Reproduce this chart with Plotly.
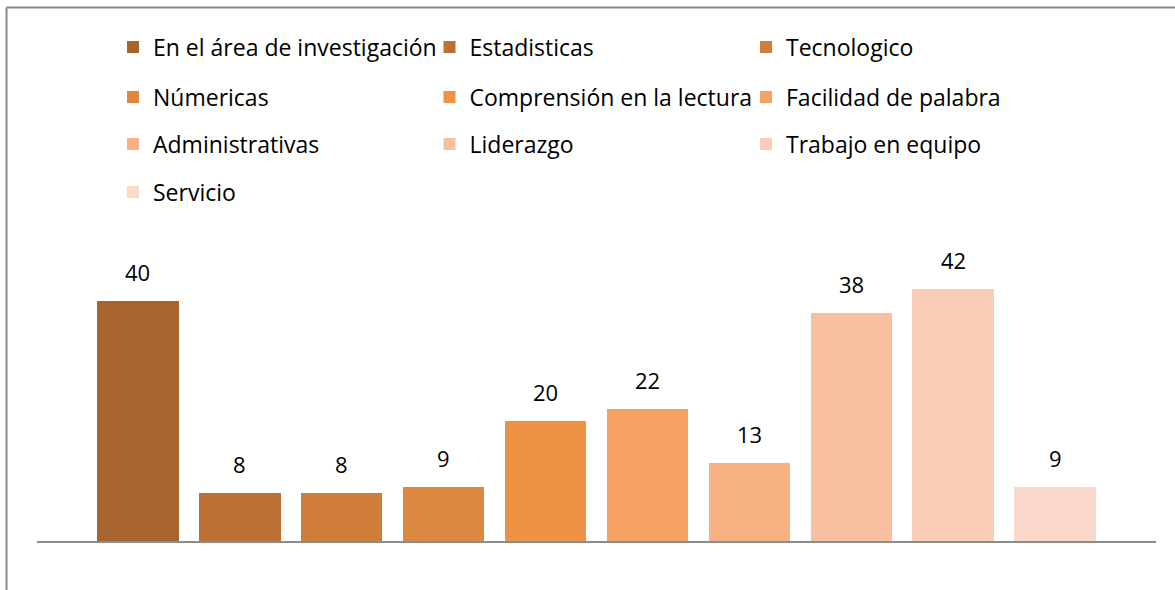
import plotly.graph_objects as go

categories = ["En el área de investigación", "Estadisticas", "Tecnologico",
              "Númericas", "Comprensión en la lectura", "Facilidad de palabra",
              "Administrativas", "Liderazgo", "Trabajo en equipo", "Servicio"]
values = [40, 8, 8, 9, 20, 22, 13, 38, 42, 9]
colors = ["#A6652E", "#BC7134", "#D07D3A", "#DD8841", "#EE9346",
          "#F6A264", "#F7B183", "#F8C0A0", "#FACDB8", "#FAD9CB"]

W, H = 1175, 590
ml, mr, mt, mb = 37, 19, 241, 49
pw = W - ml - mr
ph = H - mt - mb

FONT = "Open Sans"
FS = 23
fig = go.Figure()

legend_rows_px = [47, 97, 144, 192]
legend_names = ["legend", "legend2", "legend3", "legend4"]

for i, (c, v, col) in enumerate(zip(categories, values, colors)):
    fig.add_trace(go.Bar(
        x=[i], y=[v], name=c, width=0.8,
        marker=dict(color=col, line=dict(width=0)),
        legend=legend_names[i // 3],
        hoverinfo="name+y",
    ))
    fig.add_annotation(x=i, y=v, text=str(v), showarrow=False,
                       yanchor="bottom", yshift=12,
                       font=dict(family=FONT, size=22, color="#000000"))

leg_left_px = 113
layout_legends = {}
for k, name in enumerate(legend_names):
    ypx = legend_rows_px[k]
    layout_legends[name] = dict(
        orientation="h",
        x=(leg_left_px - ml) / pw, xanchor="left",
        y=(H - mb - ypx) / ph, yanchor="middle",
        entrywidth=271.5, entrywidthmode="pixels",
        font=dict(family=FONT, size=FS, color="#000000"),
        bgcolor="rgba(0,0,0,0)", traceorder="normal",
        itemclick=False, itemdoubleclick=False,
    )

fig.update_layout(
    width=W, height=H,
    margin=dict(l=ml, r=mr, t=mt, b=mb, pad=0),
    paper_bgcolor="#FFFFFF", plot_bgcolor="#FFFFFF",
    showlegend=True,
    bargap=0,
    xaxis=dict(range=[-0.99, 9.99], showticklabels=False, ticks="",
               showgrid=False, zeroline=False, showline=True,
               linecolor="#8C8C8C", linewidth=2, fixedrange=True),
    yaxis=dict(range=[0, 50], visible=False, fixedrange=True),
    font=dict(family=FONT, size=FS, color="#000000"),
    **layout_legends,
)

# outer chart border (left and top edges visible)
fig.add_shape(type="line", xref="paper", yref="paper",
              x0=(6.5 - ml) / pw, x1=(W + 5 - ml) / pw,
              y0=(H - mb - 7.5) / ph, y1=(H - mb - 7.5) / ph,
              line=dict(color="#8A8A8A", width=2))
fig.add_shape(type="line", xref="paper", yref="paper",
              x0=(6.5 - ml) / pw, x1=(6.5 - ml) / pw,
              y0=(H - mb - 7.5) / ph, y1=(H - mb - H - 5) / ph,
              line=dict(color="#8A8A8A", width=2))

fig.write_html("out.html",
               config={"displayModeBar": False},
               post_script="document.body.style.margin='0';")
